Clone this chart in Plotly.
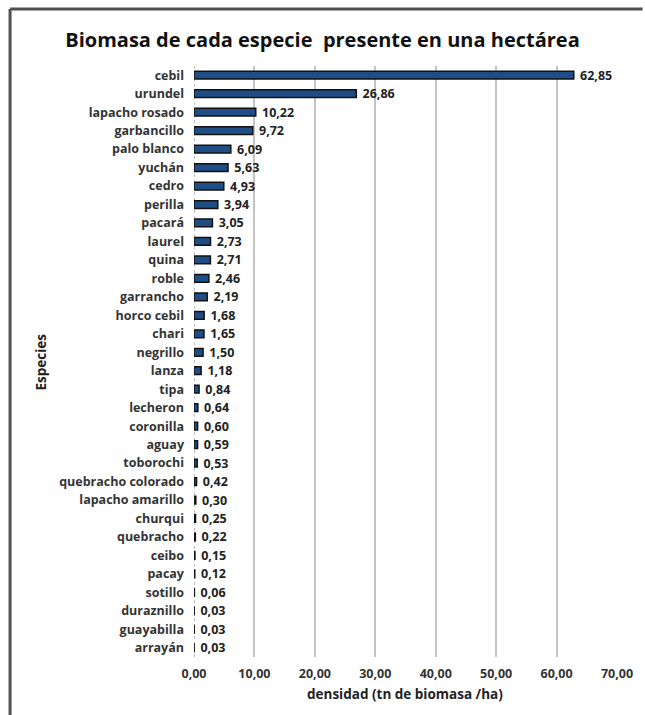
import plotly.graph_objects as go

species = ["cebil", "urundel", "lapacho rosado", "garbancillo", "palo blanco", "yuchán",
           "cedro", "perilla", "pacará", "laurel", "quina", "roble", "garrancho",
           "horco cebil", "chari", "negrillo", "lanza", "tipa", "lecheron", "coronilla",
           "aguay", "toborochi", "quebracho colorado", "lapacho amarillo", "churqui",
           "quebracho", "ceibo", "pacay", "sotillo", "duraznillo", "guayabilla", "arrayán"]
biomass = [62.85, 26.86, 10.22, 9.72, 6.09, 5.63, 4.93, 3.94, 3.05, 2.73, 2.71, 2.46, 2.19,
           1.68, 1.65, 1.50, 1.18, 0.84, 0.64, 0.60, 0.59, 0.53, 0.42, 0.30, 0.25,
           0.22, 0.15, 0.12, 0.06, 0.03, 0.03, 0.03]
x_ticks = [0, 10, 20, 30, 40, 50, 60, 70]
x_tick_labels = ["0,00", "10,00", "20,00", "30,00", "40,00", "50,00", "60,00", "70,00"]

labels = [" " + f"{v:.2f}".replace(".", ",") for v in biomass]

W, H = 645, 715
L, R, T, B = 194, 21, 66, 58
pw, ph = W - L - R, H - T - B

def px(x):
    return (x - L) / pw

def py(y):
    return (H - B - y) / ph

font = "Open Sans"

fig = go.Figure()
fig.add_trace(go.Bar(
    x=biomass, y=species, orientation="h",
    marker=dict(color="#1f4e87", line=dict(color="#111111", width=1.5)),
    width=0.42,
    text=labels, textposition="outside", cliponaxis=False, constraintext="none",
    textfont=dict(family=font, size=12.5, color="#222222", weight="bold"),
    hoverinfo="skip",
))

fig.update_layout(
    width=W, height=H,
    margin=dict(l=L, r=R, t=T, b=B, pad=0),
    paper_bgcolor="white", plot_bgcolor="white",
    showlegend=False,
    title=dict(text="<b>Biomasa de cada especie  presente en una hectárea</b>",
               x=0.5, xanchor="center", y=1 - 40 / H, yanchor="middle",
               font=dict(family=font, size=20, color="#111111")),
    xaxis=dict(range=[0, 70], tickvals=x_ticks, ticktext=x_tick_labels,
               showgrid=True, gridcolor="#c4c4c4", gridwidth=2,
               zeroline=False, showline=False, ticks="",
               tickfont=dict(family=font, size=12.5, color="#333333", weight="bold"),
               ticklabelstandoff=7),
    yaxis=dict(categoryorder="array", categoryarray=species[::-1],
               showgrid=False, zeroline=False, showline=False, ticks="",
               tickfont=dict(family=font, size=12.5, color="#333333", weight="bold"),
               ticklabelstandoff=9),
    bargap=0.58,
    shapes=[
        dict(type="line", xref="x", yref="paper", x0=0, x1=0, y0=0, y1=1,
             line=dict(color="#aaaaaa", width=1.5, dash="dot"), layer="below"),
        dict(type="line", xref="paper", yref="paper", x0=px(7), x1=px(7), y0=py(9), y1=py(H + 5),
             line=dict(color="#505050", width=3)),
        dict(type="line", xref="paper", yref="paper", x0=px(7), x1=px(W + 5), y0=py(9), y1=py(9),
             line=dict(color="#505050", width=3)),
    ],
    annotations=[
        dict(text="<b>Especies</b>", xref="paper", yref="paper", x=px(38), y=py(362),
             showarrow=False, textangle=-90, xanchor="center", yanchor="middle",
             font=dict(family=font, size=13.5, color="#222222")),
        dict(text="<b>densidad (tn de biomasa /ha)</b>", xref="paper", yref="paper",
             x=px(408), y=py(694), showarrow=False, xanchor="center", yanchor="middle",
             font=dict(family=font, size=13.5, color="#222222")),
    ],
)

fig.write_html("out.html")
